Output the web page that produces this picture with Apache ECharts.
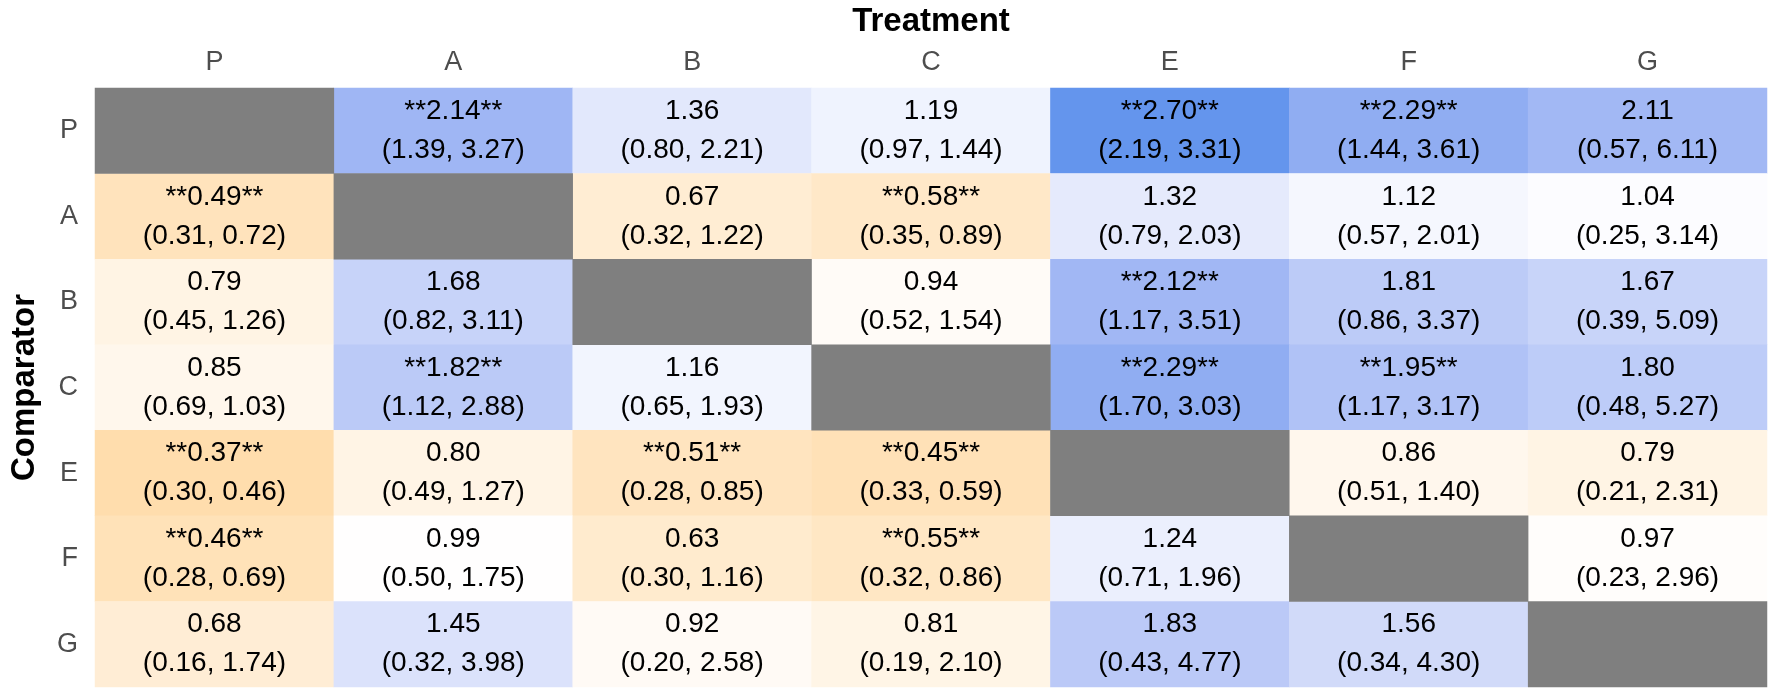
<!DOCTYPE html>
<html>
<head>
<meta charset="utf-8">
<script src="https://cdn.jsdelivr.net/npm/echarts@6/dist/echarts.min.js"></script>
<style>
  html, body { margin: 0; padding: 0; background: #ffffff; }
  #chart { width: 1772px; height: 692px; }
</style>
</head>
<body>
<div id="chart"></div>
<script>
// Treatment (columns) and Comparator (rows)
const treatments = ["P", "A", "B", "C", "E", "F", "G"];
const comparators = ["P", "A", "B", "C", "E", "F", "G"];

// Odds ratios (null on the diagonal)
const oddsRatio = [
  [null, 2.14, 1.36, 1.19, 2.70, 2.29, 2.11],
  [0.49, null, 0.67, 0.58, 1.32, 1.12, 1.04],
  [0.79, 1.68, null, 0.94, 2.12, 1.81, 1.67],
  [0.85, 1.82, 1.16, null, 2.29, 1.95, 1.80],
  [0.37, 0.80, 0.51, 0.45, null, 0.86, 0.79],
  [0.46, 0.99, 0.63, 0.55, 1.24, null, 0.97],
  [0.68, 1.45, 0.92, 0.81, 1.83, 1.56, null]
];
// Lower CI bounds
const lowerCI = [
  [null, 1.39, 0.80, 0.97, 2.19, 1.44, 0.57],
  [0.31, null, 0.32, 0.35, 0.79, 0.57, 0.25],
  [0.45, 0.82, null, 0.52, 1.17, 0.86, 0.39],
  [0.69, 1.12, 0.65, null, 1.70, 1.17, 0.48],
  [0.30, 0.49, 0.28, 0.33, null, 0.51, 0.21],
  [0.28, 0.50, 0.30, 0.32, 0.71, null, 0.23],
  [0.16, 0.32, 0.20, 0.19, 0.43, 0.34, null]
];
// Upper CI bounds
const upperCI = [
  [null, 3.27, 2.21, 1.44, 3.31, 3.61, 6.11],
  [0.72, null, 1.22, 0.89, 2.03, 2.01, 3.14],
  [1.26, 3.11, null, 1.54, 3.51, 3.37, 5.09],
  [1.03, 2.88, 1.93, null, 3.03, 3.17, 5.27],
  [0.46, 1.27, 0.85, 0.59, null, 1.40, 2.31],
  [0.69, 1.75, 1.16, 0.86, 1.96, null, 2.96],
  [1.74, 3.98, 2.58, 2.10, 4.77, 4.30, null]
];

const midpoint = 1;

// ---- Lab colour interpolation helpers (diverging palette) ----
function srgbToLin(c) { c /= 255; return c <= 0.04045 ? c / 12.92 : Math.pow((c + 0.055) / 1.055, 2.4); }
function linToSrgb(c) { c = Math.min(1, Math.max(0, c)); const v = c <= 0.0031308 ? 12.92 * c : 1.055 * Math.pow(c, 1 / 2.4) - 0.055; return Math.round(v * 255); }
function hexToLab(hex) {
  const r = srgbToLin(parseInt(hex.slice(1, 3), 16));
  const g = srgbToLin(parseInt(hex.slice(3, 5), 16));
  const b = srgbToLin(parseInt(hex.slice(5, 7), 16));
  const X = (0.4124 * r + 0.3576 * g + 0.1805 * b) / 0.95047;
  const Y = (0.2126 * r + 0.7152 * g + 0.0722 * b);
  const Z = (0.0193 * r + 0.1192 * g + 0.9505 * b) / 1.08883;
  const f = t => t > 0.008856 ? Math.cbrt(t) : 7.787 * t + 16 / 116;
  const fx = f(X), fy = f(Y), fz = f(Z);
  return [116 * fy - 16, 500 * (fx - fy), 200 * (fy - fz)];
}
function labToHex(L, a, bb) {
  const fy = (L + 16) / 116, fx = fy + a / 500, fz = fy - bb / 200;
  const inv = t => t * t * t > 0.008856 ? t * t * t : (t - 16 / 116) / 7.787;
  const X = inv(fx) * 0.95047, Y = inv(fy), Z = inv(fz) * 1.08883;
  const r = 3.2406 * X - 1.5372 * Y - 0.4986 * Z;
  const g = -0.9689 * X + 1.8758 * Y + 0.0415 * Z;
  const b = 0.0557 * X - 0.2040 * Y + 1.0570 * Z;
  const h = v => linToSrgb(v).toString(16).padStart(2, '0');
  return '#' + h(r) + h(g) + h(b);
}
function divergingStops(low, mid, high, n) {
  const A = hexToLab(low), M = hexToLab(mid), B = hexToLab(high);
  const out = [];
  for (let i = 0; i < n; i++) {
    const t = i / (n - 1);
    let p, q, s;
    if (t <= 0.5) { p = A; q = M; s = t / 0.5; } else { p = M; q = B; s = (t - 0.5) / 0.5; }
    out.push(labToHex(p[0] + (q[0] - p[0]) * s, p[1] + (q[1] - p[1]) * s, p[2] + (q[2] - p[2]) * s));
  }
  return out;
}

const cellData = [];
const diagData = [];
for (let r = 0; r < comparators.length; r++) {
  for (let c = 0; c < treatments.length; c++) {
    const v = oddsRatio[r][c];
    if (v === null) {
      diagData.push([c, r, 0]);
    } else {
      cellData.push({
        value: [c, r, v],
        or: v, lo: lowerCI[r][c], hi: upperCI[r][c]
      });
    }
  }
}
const vals = cellData.map(d => d.value[2]);
const dist = Math.max(Math.abs(Math.min(...vals) - midpoint), Math.abs(Math.max(...vals) - midpoint));

const FONT = "'Liberation Sans', Arial, sans-serif";
const chart = echarts.init(document.getElementById('chart'));
chart.setOption({
  backgroundColor: '#ffffff',
  animation: false,
  grid: { left: 85, right: 5, top: 81, bottom: 5 },
  xAxis: {
    type: 'category',
    position: 'top',
    data: treatments,
    name: 'Treatment',
    nameLocation: 'middle',
    nameGap: 50,
    nameTextStyle: { fontSize: 33, fontWeight: 'bold', color: '#000000', fontFamily: FONT },
    axisLine: { show: false },
    axisTick: { show: false },
    splitLine: { show: false },
    axisLabel: { fontSize: 27, color: '#4d4d4d', margin: 12, fontFamily: FONT }
  },
  yAxis: {
    type: 'category',
    inverse: true,
    data: comparators,
    name: 'Comparator',
    nameLocation: 'middle',
    nameGap: 54,
    nameTextStyle: { fontSize: 33, fontWeight: 'bold', color: '#000000', fontFamily: FONT },
    axisLine: { show: false },
    axisTick: { show: false },
    splitLine: { show: false },
    axisLabel: { fontSize: 27, color: '#4d4d4d', margin: 17, fontFamily: FONT }
  },
  visualMap: {
    show: false,
    type: 'continuous',
    seriesIndex: 0,
    dimension: 2,
    min: midpoint - dist,
    max: midpoint + dist,
    inRange: { color: divergingStops('#ffa500', '#ffffff', '#6495ed', 41) }
  },
  series: [
    {
      type: 'heatmap',
      data: cellData,
      itemStyle: { borderWidth: 0 },
      label: {
        show: true,
        fontSize: 28,
        lineHeight: 39,
        color: '#000000',
        fontFamily: FONT,
        formatter: p => {
          const d = p.data;
          const sig = (d.lo > 1 || d.hi < 1) ? '**' : '';
          return sig + d.or.toFixed(2) + sig + '\n(' + d.lo.toFixed(2) + ', ' + d.hi.toFixed(2) + ')';
        }
      },
      emphasis: { disabled: true }
    },
    {
      type: 'heatmap',
      data: diagData,
      itemStyle: { color: '#7f7f7f', borderWidth: 0 },
      label: { show: false },
      emphasis: { disabled: true }
    }
  ]
});
</script>
</body>
</html>
